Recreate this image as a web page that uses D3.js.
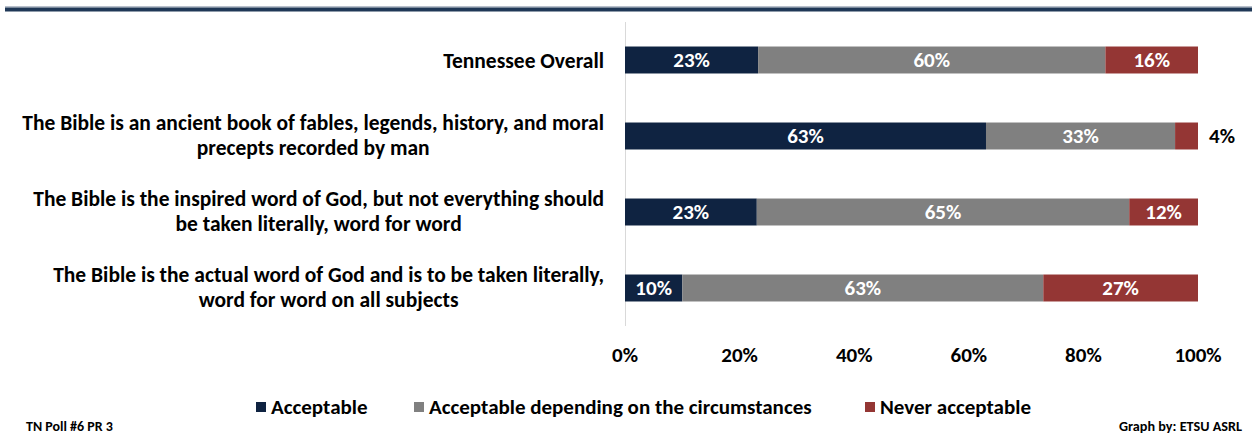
<!DOCTYPE html>
<html><head><meta charset="utf-8">
<script src="https://cdn.jsdelivr.net/npm/d3@7"></script>
<style>
html,body{margin:0;padding:0;background:#fff;}
svg{display:block;font-family:Carlito,'Liberation Sans Narrow','Liberation Sans',sans-serif;font-weight:bold;}
</style></head><body>
<svg id="chart" width="1252" height="434"></svg>
<script>
const categories = [
  "Tennessee Overall",
  "The Bible is an ancient book of fables, legends, history, and moral|precepts recorded by man",
  "The Bible is the inspired word of God, but not everything should|be taken literally, word for word",
  "The Bible is the actual word of God and is to be taken literally,|word for word on all subjects"
];
const seriesNames = ["Acceptable", "Acceptable depending on the circumstances", "Never acceptable"];
const acceptable = [23, 63, 23, 10];
const depending = [60, 33, 65, 63];
const never = [16, 4, 12, 27];
const tickLabels = ["0%", "20%", "40%", "60%", "80%", "100%"];
const colors = ["#0F2341", "#808080", "#943634"];

const rows = categories.map((c, i) => ({cat: c, s0: acceptable[i], s1: depending[i], s2: never[i]}));
const keys = ["s0", "s1", "s2"];
const stacked = d3.stack().keys(keys).offset(d3.stackOffsetExpand)(rows);

const svg = d3.select("#chart");
// top rule
svg.append("rect").attr("x", 5).attr("y", 6).attr("width", 1247).attr("height", 1.5).attr("fill", "#b8c0cc");
svg.append("rect").attr("x", 5).attr("y", 7.5).attr("width", 1247).attr("height", 4).attr("fill", "#1F3857");

const x = d3.scaleLinear().domain([0, 1]).range([625, 1198]);
const y = d3.scaleBand().domain(categories).range([22, 326]).paddingInner(0.645).paddingOuter(0.3225);

// vertical axis line
svg.append("line").attr("x1", 625.5).attr("x2", 625.5).attr("y1", 22).attr("y2", 326)
  .attr("stroke", "#d9d9d9").attr("stroke-width", 1);

const g = svg.append("g");
stacked.forEach((layer, li) => {
  g.selectAll(null).data(layer).join("rect")
    .attr("x", d => x(d[0]))
    .attr("y", d => y(d.data.cat))
    .attr("width", d => x(d[1]) - x(d[0]))
    .attr("height", y.bandwidth())
    .attr("fill", colors[li]);
  g.selectAll(null).data(layer).join("text")
    .attr("x", d => {
      const v = d.data[keys[li]];
      return v < 6 ? x(d[1]) + 24 : (x(d[0]) + x(d[1])) / 2;
    })
    .attr("y", d => y(d.data.cat) + y.bandwidth() / 2)
    .attr("dy", "0.35em")
    .attr("text-anchor", "middle")
    .attr("font-size", 21)
    .attr("fill", d => d.data[keys[li]] < 6 ? "#000" : "#fff")
    .text(d => d.data[keys[li]] + "%");
});

// category labels
const labelRight = 604;
categories.forEach(c => {
  const lines = c.split("|");
  const t = svg.append("text").attr("font-size", 21.5).attr("fill", "#000").attr("text-anchor", "middle");
  const cy = y(c) + y.bandwidth() / 2 - (lines.length > 1 ? 1 : 0);
  const lh = 25;
  const tspans = lines.map((l, i) => t.append("tspan").attr("y", cy + (i - (lines.length - 1) / 2) * lh).attr("dy", "0.35em").text(l));
  const maxW = d3.max(tspans, s => s.node().getComputedTextLength());
  tspans.forEach(s => s.attr("x", labelRight - maxW / 2));
});

// x axis tick labels
const ticks = d3.range(0, 1.0001, 0.2);
svg.append("g").selectAll("text").data(ticks).join("text")
  .attr("x", d => x(d)).attr("y", 355).attr("dy", "0.35em")
  .attr("text-anchor", "middle").attr("font-size", 21).attr("fill", "#000")
  .text((d, i) => tickLabels[i]);

// legend
const legendX = [256, 414, 865];
const lg = svg.append("g");
seriesNames.forEach((n, i) => {
  lg.append("rect").attr("x", legendX[i]).attr("y", 402).attr("width", 10).attr("height", 10).attr("fill", colors[i]);
  lg.append("text").attr("x", legendX[i] + 15).attr("y", 407).attr("dy", "0.35em")
    .attr("font-size", 21).attr("fill", "#000").text(n);
});

// footer
svg.append("text").attr("x", 26).attr("y", 426).attr("dy", "0.35em").attr("font-size", 14).text("TN Poll #6 PR 3");
svg.append("text").attr("x", 1242).attr("y", 426).attr("dy", "0.35em").attr("text-anchor", "end").attr("font-size", 14.2).text("Graph by: ETSU ASRL");
</script>
</body></html>
